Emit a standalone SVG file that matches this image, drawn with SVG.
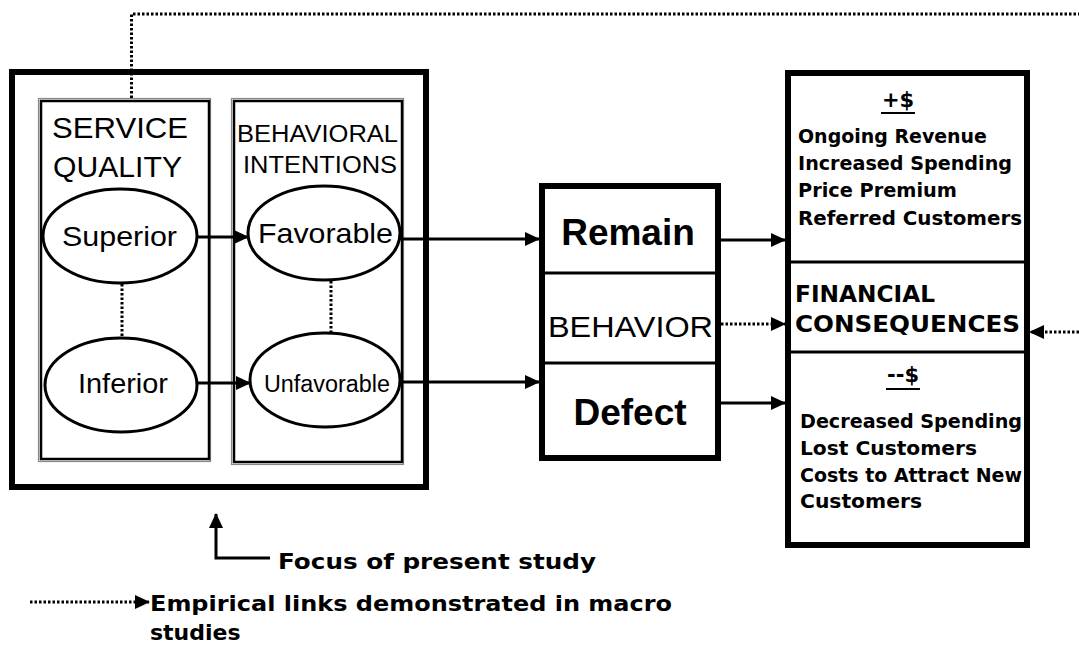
<svg xmlns="http://www.w3.org/2000/svg" width="1079" height="645" viewBox="0 0 1079 645">
<style>
.thick{fill:none;stroke:#000;stroke-width:6}
.inner{fill:none;stroke:#000;stroke-width:2.5}
.innerg{fill:none;stroke:#888;stroke-width:1.2}
.ell{fill:#fff;stroke:#000;stroke-width:3}
.div{stroke:#000;stroke-width:3}
.ln{fill:none;stroke:#000;stroke-width:3}
.dot{fill:none;stroke:#000;stroke-width:3;stroke-dasharray:2.5 2}
.thin{font-family:"Liberation Sans",Arial,sans-serif;fill:#000}
.bold{font-family:"DejaVu Sans","Liberation Sans",sans-serif;font-weight:bold;fill:#000}
.big{font-family:"Liberation Sans",Arial,sans-serif;font-weight:bold;fill:#000}
</style>
<defs>
<marker id="ah" markerUnits="userSpaceOnUse" markerWidth="16" markerHeight="14" refX="14" refY="7" orient="auto">
<path d="M0,0 L15,7 L0,14 Z" fill="#000"/>
</marker>
</defs>
<rect width="1079" height="645" fill="#fff"/>

<g id="focus-box">
<rect class="thick" x="12" y="72" width="414" height="415"/>
</g>

<g id="service-quality">
<rect class="innerg" x="38.5" y="98.5" width="172" height="363"/>
<rect class="inner" x="41" y="101" width="168" height="358"/>
<text class="thin" x="52" y="138" font-size="29" textLength="136" lengthAdjust="spacingAndGlyphs">SERVICE</text>
<text class="thin" x="53" y="177" font-size="29" textLength="129" lengthAdjust="spacingAndGlyphs">QUALITY</text>
</g>

<g id="behavioral-intentions">
<rect class="innerg" x="231.5" y="98.5" width="172" height="366"/>
<rect class="inner" x="234" y="101" width="168" height="361"/>
<text class="thin" x="237" y="142" font-size="23" textLength="161" lengthAdjust="spacingAndGlyphs">BEHAVIORAL</text>
<text class="thin" x="243" y="173" font-size="23" textLength="154" lengthAdjust="spacingAndGlyphs">INTENTIONS</text>
</g>

<g id="superior">
<ellipse class="ell" cx="120" cy="236" rx="77" ry="47"/>
<text class="thin" x="62" y="246" font-size="28" textLength="115" lengthAdjust="spacingAndGlyphs">Superior</text>
</g>
<g id="inferior">
<ellipse class="ell" cx="121" cy="385" rx="76" ry="47"/>
<text class="thin" x="78" y="393" font-size="28" textLength="90" lengthAdjust="spacingAndGlyphs">Inferior</text>
</g>
<g id="favorable">
<ellipse class="ell" cx="324" cy="233" rx="76" ry="47"/>
<text class="thin" x="258" y="243" font-size="28" textLength="135" lengthAdjust="spacingAndGlyphs">Favorable</text>
</g>
<g id="unfavorable">
<ellipse class="ell" cx="325" cy="380" rx="75" ry="47"/>
<text class="thin" x="264" y="392" font-size="23" textLength="126" lengthAdjust="spacingAndGlyphs">Unfavorable</text>
</g>

<g id="behavior">
<rect class="thick" x="542" y="186" width="176" height="272"/>
<line class="div" x1="542" y1="273" x2="718" y2="273"/>
<line class="div" x1="542" y1="363" x2="720" y2="363"/>
<text class="big" x="628" y="245" font-size="37" text-anchor="middle">Remain</text>
<text class="thin" x="548" y="337" font-size="30" textLength="165" lengthAdjust="spacingAndGlyphs">BEHAVIOR</text>
<text class="big" x="630" y="425" font-size="37" text-anchor="middle">Defect</text>
</g>

<g id="financial-consequences">
<rect class="thick" x="788" y="73" width="239" height="472"/>
<line class="div" x1="788" y1="262" x2="1027" y2="262"/>
<line class="div" x1="788" y1="352" x2="1027" y2="352"/>
<text class="bold" x="898" y="107" font-size="21" text-anchor="middle">+$</text>
<line x1="881" y1="113" x2="915" y2="113" stroke="#000" stroke-width="2"/>
<text class="bold" x="798" y="143" font-size="19" textLength="189" lengthAdjust="spacingAndGlyphs">Ongoing Revenue</text>
<text class="bold" x="798" y="170" font-size="19" textLength="214" lengthAdjust="spacingAndGlyphs">Increased Spending</text>
<text class="bold" x="798" y="197" font-size="19" textLength="159" lengthAdjust="spacingAndGlyphs">Price Premium</text>
<text class="bold" x="798" y="225" font-size="19" textLength="224" lengthAdjust="spacingAndGlyphs">Referred Customers</text>
<text class="bold" x="795" y="302" font-size="23" textLength="140" lengthAdjust="spacingAndGlyphs">FINANCIAL</text>
<text class="bold" x="795" y="332" font-size="23" textLength="225" lengthAdjust="spacingAndGlyphs">CONSEQUENCES</text>
<text class="bold" x="903" y="382" font-size="21" text-anchor="middle">--$</text>
<line x1="886" y1="389" x2="920" y2="389" stroke="#000" stroke-width="2"/>
<text class="bold" x="800" y="428" font-size="19" textLength="222" lengthAdjust="spacingAndGlyphs">Decreased Spending</text>
<text class="bold" x="800" y="455" font-size="19" textLength="177" lengthAdjust="spacingAndGlyphs">Lost Customers</text>
<text class="bold" x="800" y="482" font-size="19" textLength="222" lengthAdjust="spacingAndGlyphs">Costs to Attract New</text>
<text class="bold" x="800" y="508" font-size="19" textLength="122" lengthAdjust="spacingAndGlyphs">Customers</text>
</g>

<g id="connectors">
<line class="ln" x1="197" y1="237" x2="248" y2="237" marker-end="url(#ah)"/>
<line class="ln" x1="197" y1="383" x2="250" y2="383" marker-end="url(#ah)"/>
<line class="dot" x1="122" y1="284" x2="122" y2="337"/>
<line class="dot" x1="331" y1="281" x2="331" y2="332"/>
<line class="ln" x1="400" y1="239" x2="539" y2="239" marker-end="url(#ah)"/>
<line class="ln" x1="400" y1="382" x2="539" y2="382" marker-end="url(#ah)"/>
<line class="ln" x1="721" y1="240" x2="785" y2="240" marker-end="url(#ah)"/>
<line class="dot" x1="721" y1="324" x2="785" y2="324" marker-end="url(#ah)"/>
<line class="ln" x1="721" y1="403" x2="785" y2="403" marker-end="url(#ah)"/>
<polyline class="dot" points="131.5,98 131.5,14 1079,14"/>
<line class="dot" x1="1079" y1="332" x2="1030" y2="332" marker-end="url(#ah)"/>
</g>

<g id="legend">
<polyline class="ln" points="270,558 216,558 216,514" marker-end="url(#ah)"/>
<text class="bold" x="278" y="569" font-size="22" textLength="318" lengthAdjust="spacingAndGlyphs">Focus of present study</text>
<line class="dot" x1="30" y1="602" x2="149" y2="602" marker-end="url(#ah)"/>
<text class="bold" x="150" y="611" font-size="22" textLength="522" lengthAdjust="spacingAndGlyphs">Empirical links demonstrated in macro</text>
<text class="bold" x="150" y="640" font-size="22">studies</text>
</g>
</svg>
